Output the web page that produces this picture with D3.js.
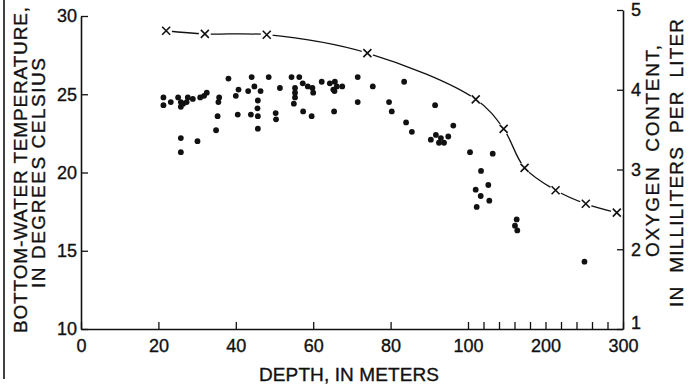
<!DOCTYPE html>
<html>
<head>
<meta charset="utf-8">
<script src="https://cdn.jsdelivr.net/npm/d3@7"></script>
<style>
  body { margin: 0; background: #fff; }
  svg text { font-family: "Liberation Sans", Arial, sans-serif; fill: #111; stroke: #111; stroke-width: 0.35px; }
  .axis path, .axis line { stroke: #111; }
</style>
</head>
<body>
<script>
const w = 693;
const h = 387;

// bottom-water temperature samples (depth in m, temperature in deg C)
const tempDepth = [21.3, 21.3, 23.2, 25.1, 25.8, 25.8, 26.4, 27.6, 27.3, 28.9, 30.8, 31.8, 32.5,
  35.7, 35.5, 35.3, 34.9, 25.8, 30.1, 25.8, 38.1, 40.7, 40.0, 40.5, 43.2, 44.1, 44.8, 46.4,
  45.7, 45.6, 43.9, 45.7, 45.7, 48.5, 51.4, 50.3, 50.4, 54.4, 56.4, 57.3, 55.3, 55.3, 55.3,
  55.0, 58.6, 59.8, 60.0, 57.4, 59.6, 62.2, 64.3, 65.6, 65.2, 66.1, 67.5, 65.5, 65.4, 71.5,
  75.4, 71.5, 83.5, 79.6, 80.3, 84.0, 85.5, 91.5, 96.2, 91.7, 93.0, 94.9, 90.4, 92.5, 93.8,
  102.6, 131.9, 116.8, 126.2, 109.9, 116.4, 127.5, 111.2, 162.8, 160.6, 163.6, 250.3];
const tempValue = [24.8, 24.3, 24.5, 24.8, 24.5, 24.2, 24.4, 24.8, 24.5, 24.7, 24.8, 24.9, 25.1,
  24.8, 24.5, 23.6, 22.7, 22.2, 22.0, 21.3, 26.0, 25.3, 24.9, 23.7, 25.2, 26.1, 25.5, 25.2,
  24.6, 24.1, 23.7, 23.6, 22.8, 26.1, 25.4, 23.8, 23.4, 26.1, 26.1, 25.7, 25.4, 25.1, 24.8,
  24.4, 25.5, 25.4, 25.1, 23.9, 23.6, 25.8, 25.7, 25.8, 25.3, 25.5, 25.5, 25.2, 23.9, 26.1,
  25.5, 24.5, 25.8, 24.5, 23.9, 23.2, 22.6, 24.3, 23.0, 22.4, 22.2, 22.3, 22.1, 21.9, 21.9,
  21.3, 21.2, 20.1, 19.2, 18.9, 18.5, 18.2, 17.8, 17.0, 16.6, 16.3, 14.3];

// oxygen content profile (depth in m, ml per liter)
const oxyDepth = [22, 32, 48, 74, 110, 146, 173, 213, 252, 292];
const oxyValue = [4.74, 4.70, 4.69, 4.46, 3.88, 3.51, 3.02, 2.74, 2.57, 2.46];

const xTickValues = [0, 20, 40, 60, 80, 100, 120, 140, 160, 180, 200, 220, 240, 260, 280, 300];
const xTickLabels = [0, 20, 40, 60, 80, 100, 200, 300];
const tempTicks = [10, 15, 20, 25, 30];
const oxyTicks = [1, 2, 3, 4, 5];

const svg = d3
  .select("body")
  .append("svg")
  .attr("width", w)
  .attr("height", h);

// depth scale: linear to 100 m, compressed from 100 to 300 m
const x = d3.scaleLinear().domain([0, 100, 300]).range([81, 468, 623]);
const yTemp = d3.scaleLinear().domain([10, 30]).range([329, 16]);
const yOxy = d3.scaleLinear().domain([1, 5]).range([329, 10]);

// scan frame edge at far left
svg.append("line")
  .attr("x1", 4).attr("x2", 4)
  .attr("y1", 0).attr("y2", 379)
  .attr("stroke", "#111")
  .attr("stroke-width", 1.6);

const xAxis = svg.append("g")
  .attr("class", "axis")
  .attr("transform", "translate(0," + yTemp(10) + ")")
  .call(d3.axisBottom(x)
    .tickValues(xTickValues)
    .tickSizeInner(-7)
    .tickSizeOuter(0)
    .tickPadding(7)
    .tickFormat(d => xTickLabels.includes(d) ? d : ""));

xAxis.select(".domain").attr("stroke-width", 1.6);
xAxis.selectAll(".tick line").attr("stroke-width", 1.3);
xAxis.selectAll(".tick text").attr("font-size", "18px").attr("dy", "0.9em");

const leftAxis = svg.append("g")
  .attr("class", "axis")
  .attr("transform", "translate(" + x(0) + ",0)")
  .call(d3.axisLeft(yTemp)
    .tickValues(tempTicks)
    .tickSizeInner(-7)
    .tickSizeOuter(0)
    .tickPadding(4));

leftAxis.select(".domain").attr("stroke-width", 1.6);
leftAxis.selectAll(".tick line").attr("stroke-width", 1.3);
leftAxis.selectAll(".tick text").attr("font-size", "18px");

const rightAxis = svg.append("g")
  .attr("class", "axis")
  .attr("transform", "translate(" + x(300) + ",0)")
  .call(d3.axisRight(yOxy)
    .tickValues(oxyTicks)
    .tickFormat(d3.format("d"))
    .tickSizeInner(-6)
    .tickSizeOuter(0)
    .tickPadding(8));

rightAxis.select(".domain").attr("stroke-width", 1.6);
rightAxis.selectAll(".tick line").attr("stroke-width", 1.3);
rightAxis.selectAll(".tick text").attr("font-size", "18px");
// bottom label sits a little high so it clears the 300
rightAxis.selectAll(".tick text").filter(d => d === 1).attr("dy", "-0.05em");

// axis titles
svg.append("text")
  .attr("transform", "translate(27,170) rotate(-90)")
  .attr("text-anchor", "middle")
  .attr("font-size", "19px")
  .attr("textLength", 326)
  .text("BOTTOM-WATER TEMPERATURE,");

svg.append("text")
  .attr("transform", "translate(45,173) rotate(-90)")
  .attr("text-anchor", "middle")
  .attr("font-size", "19px")
  .attr("textLength", 230)
  .text("IN DEGREES CELSIUS");

svg.append("text")
  .attr("transform", "translate(659,151) rotate(-90)")
  .attr("text-anchor", "middle")
  .attr("font-size", "19px")
  .attr("textLength", 212)
  .attr("xml:space", "preserve")
  .text("OXYGEN  CONTENT,");

svg.append("text")
  .attr("transform", "translate(683,163) rotate(-90)")
  .attr("text-anchor", "middle")
  .attr("font-size", "19px")
  .attr("textLength", 288)
  .attr("xml:space", "preserve")
  .text("IN  MILLILITERS  PER  LITER");

svg.append("text")
  .attr("x", 349)
  .attr("y", 381)
  .attr("text-anchor", "middle")
  .attr("font-size", "19px")
  .attr("textLength", 180)
  .text("DEPTH, IN METERS");

// oxygen curve
const oxyPoints = oxyDepth.map((d, i) => [x(d), yOxy(oxyValue[i])]);

svg.append("path")
  .attr("d", d3.line().curve(d3.curveCatmullRom.alpha(0.5))(oxyPoints))
  .attr("fill", "none")
  .attr("stroke", "#111")
  .attr("stroke-width", 1.3);

let marks = svg.selectAll(".oxy")
  .data(oxyPoints)
  .enter()
  .append("g")
  .attr("class", "oxy")
  .attr("transform", d => "translate(" + d[0] + "," + d[1] + ")");

marks.append("circle")
  .attr("r", 6)
  .attr("fill", "#fff");

marks.append("path")
  .attr("d", "M-4,-4L4,4M-4,4L4,-4")
  .attr("stroke", "#111")
  .attr("stroke-width", 1.6)
  .attr("fill", "none");

// temperature dots
svg.selectAll(".temp")
  .data(tempDepth)
  .enter()
  .append("circle")
  .attr("class", "temp")
  .attr("cx", d => x(d))
  .attr("cy", (d, i) => yTemp(tempValue[i]))
  .attr("r", 2.9)
  .attr("fill", "#111");
</script>
</body>
</html>
